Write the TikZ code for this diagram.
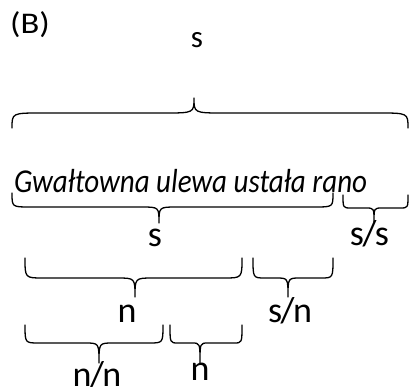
\documentclass[tikz,border=0pt]{standalone}
\usepackage{fontspec}
\setmainfont{Carlito}
\newcommand{\slashed}[2]{#1\kern-1.5pt/\kern-1.5pt#2}
\begin{document}
\begin{tikzpicture}[x=1pt,y=-1pt,
  bracestroke/.style={line width=1.3pt,line cap=round,line join=round},
  lbl/.style={inner sep=0pt,anchor=base,font=\fontsize{36}{36}\selectfont},
  toplbl/.style={lbl,font=\fontsize{31}{31}\selectfont},
  sentence/.style={inner sep=0pt,anchor=base west,font=\fontsize{29}{29}\selectfont\itshape},
  tag/.style={inner sep=0pt,anchor=base west,font=\fontsize{30}{30}\selectfont}]
\useasboundingbox (0,0) rectangle (409,387);
% \curly{left x}{right x}{tip x}{end y}{body y}{tip y}{corner radius}{tip name}
\newcommand{\curly}[8]{%
  \draw[bracestroke] (#1,#4) .. controls (#1,#5) .. ({#1+#7},#5)
    -- ({#3-#7},#5) .. controls (#3,#5) .. (#3,#6)
    .. controls (#3,#5) .. ({#3+#7},#5)
    -- ({#2-#7},#5) .. controls (#2,#5) .. (#2,#4);
  \coordinate (#8) at (#3,#6);}

\node[tag] (label) at (10,34) {\scalebox{1.15}[1]{(B)}};
\node[toplbl] (sTop) at (197,48) {s};

\curly{12}{408}{194}{128}{113}{98}{30}{tipTop}

\node[sentence] (sent) at (14,193) {\scalebox{1}[1.15]{Gwałtowna ulewa ustała rano}};

\curly{12}{333}{159}{193}{207}{223}{18}{tipS}
\curly{343}{408}{374}{195}{208}{222}{8}{tipSS}
\node[lbl] (sMid) at (155,247) {s};
\node[lbl] (ss) at (369.5,245) {\slashed{s}{s}};

\curly{25}{242}{135}{258}{278}{297}{18}{tipN}
\curly{253}{333}{288}{258}{278}{297}{12}{tipSN}
\node[lbl] (nMid) at (127,322) {n};
\node[lbl] (sn) at (290,322) {\slashed{s}{n}};

\curly{25}{163}{99}{325}{343}{363}{14}{tipNN}
\curly{170}{242}{200}{325}{343}{363}{8}{tipNlow}
\node[lbl] (nn) at (97,386) {\slashed{n}{n}};
\node[lbl] (nLow) at (200,380) {n};
\end{tikzpicture}
\end{document}
